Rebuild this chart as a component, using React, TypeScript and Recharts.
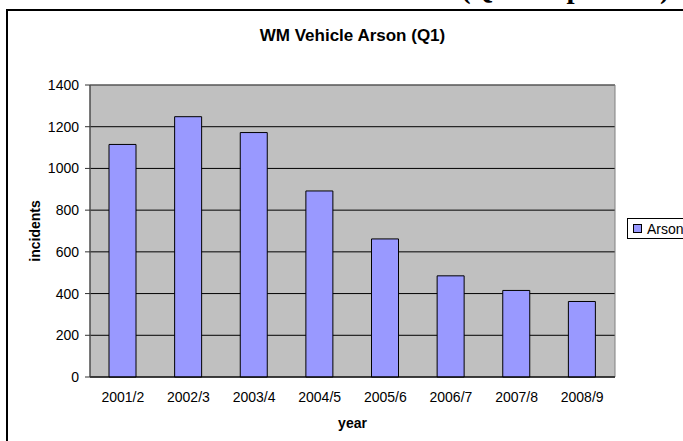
import React from 'react';
import { BarChart, Bar, XAxis, YAxis, CartesianGrid, Legend, Label, ReferenceArea } from 'recharts';

const years = ['2001/2', '2002/3', '2003/4', '2004/5', '2005/6', '2006/7', '2007/8', '2008/9'];
const arson = [1115, 1248, 1172, 892, 662, 485, 415, 362];
const yTicks = [0, 200, 400, 600, 800, 1000, 1200, 1400];
const edgeTicks = [0, 1, 2, 3, 4, 5, 6, 7, 8];
const seriesName = 'Arson';
const chartTitle = 'WM Vehicle Arson (Q1)';
const pageHeading = '(Q1 comparison)';

const data = years.map((year, i) => ({ year, Arson: arson[i] }));

const FONT = '"Liberation Sans", Arial, sans-serif';
const BAR_FILL = '#9999FF';
const TICK_SIZE = 14;

const LegendBox = () => (
  <div
    style={{
      position: 'absolute',
      left: 627,
      top: 218,
      width: 80,
      height: 21,
      border: '1px solid #000',
      background: '#fff',
      boxSizing: 'border-box',
      fontFamily: FONT,
      fontSize: 14,
      display: 'flex',
      alignItems: 'center',
    }}
  >
    <span
      style={{
        display: 'inline-block',
        width: 7,
        height: 7,
        background: BAR_FILL,
        border: '1px solid #000',
        marginLeft: 5,
        marginRight: 5,
      }}
    />
    <span>{seriesName}</span>
  </div>
);

export default function App() {
  return (
    <div
      style={{
        position: 'absolute',
        left: 0,
        top: 0,
        width: 683,
        height: 441,
        overflow: 'hidden',
        background: '#fff',
      }}
    >
      <div
        style={{
          position: 'absolute',
          left: 461,
          top: -26,
          fontFamily: '"Liberation Serif", "Times New Roman", serif',
          fontWeight: 'bold',
          fontSize: 29,
          lineHeight: '29px',
          whiteSpace: 'nowrap',
        }}
      >
        {pageHeading}
      </div>
      <div
        style={{
          position: 'absolute',
          left: 6,
          top: 9,
          width: 720,
          height: 470,
          border: '2px solid #000',
          boxSizing: 'border-box',
        }}
      />
      <div
        style={{
          position: 'absolute',
          left: 90,
          top: 26,
          width: 525,
          textAlign: 'center',
          fontFamily: FONT,
          fontWeight: 'bold',
          fontSize: 17,
          lineHeight: '20px',
        }}
      >
        {chartTitle}
      </div>
      <div style={{ position: 'absolute', left: 0, top: 0 }}>
        <BarChart
          width={683}
          height={441}
          data={data}
          margin={{ top: 85, right: 68, left: 0, bottom: 0 }}
          barSize={27}
        >
          <CartesianGrid
            vertical={false}
            horizontal
            stroke="#000"
            strokeWidth={1}
            fill="#C0C0C0"
            fillOpacity={1}
          />
          <XAxis
            xAxisId="edges"
            type="number"
            domain={[0, 8]}
            ticks={edgeTicks}
            tick={false}
            tickSize={5}
            height={0}
            axisLine={false}
            tickLine={{ stroke: '#000' }}
            allowDataOverflow
          />
          <XAxis
            dataKey="year"
            height={64}
            tickLine={false}
            tickSize={6}
            tickMargin={9}
            axisLine={{ stroke: '#000' }}
            tick={{ fill: '#000', fontSize: TICK_SIZE, fontFamily: FONT }}
            interval={0}
          >
            <Label
              content={({ viewBox }: any) => (
                <text
                  x={viewBox.x + viewBox.width / 2}
                  y={428}
                  textAnchor="middle"
                  fontFamily={FONT}
                  fontWeight="bold"
                  fontSize={14}
                  fill="#000"
                >
                  year
                </text>
              )}
            />
          </XAxis>
          <YAxis
            domain={[0, 1400]}
            ticks={yTicks}
            interval={0}
            width={90}
            tickSize={5}
            tickMargin={6}
            axisLine={{ stroke: '#333' }}
            tickLine={{ stroke: '#333' }}
            tick={{ fill: '#000', fontSize: TICK_SIZE, fontFamily: FONT }}
          >
            <Label
              content={({ viewBox }: any) => {
                const cy = viewBox.y + viewBox.height / 2;
                return (
                  <text
                    x={35}
                    y={cy}
                    transform={`rotate(-90, 35, ${cy})`}
                    textAnchor="middle"
                    dominantBaseline="central"
                    fontFamily={FONT}
                    fontWeight="bold"
                    fontSize={14}
                    fill="#000"
                  >
                    incidents
                  </text>
                );
              }}
            />
          </YAxis>
          <ReferenceArea y1={0} y2={1400} fill="none" stroke="#808080" strokeWidth={1} ifOverflow="visible" />
          <Legend content={() => <LegendBox />} wrapperStyle={{ position: 'absolute', left: 0, top: 0, width: 0, height: 0 }} />
          <Bar dataKey="Arson" name={seriesName} fill={BAR_FILL} stroke="#000" strokeWidth={1} isAnimationActive={false} />
        </BarChart>
      </div>
    </div>
  );
}
